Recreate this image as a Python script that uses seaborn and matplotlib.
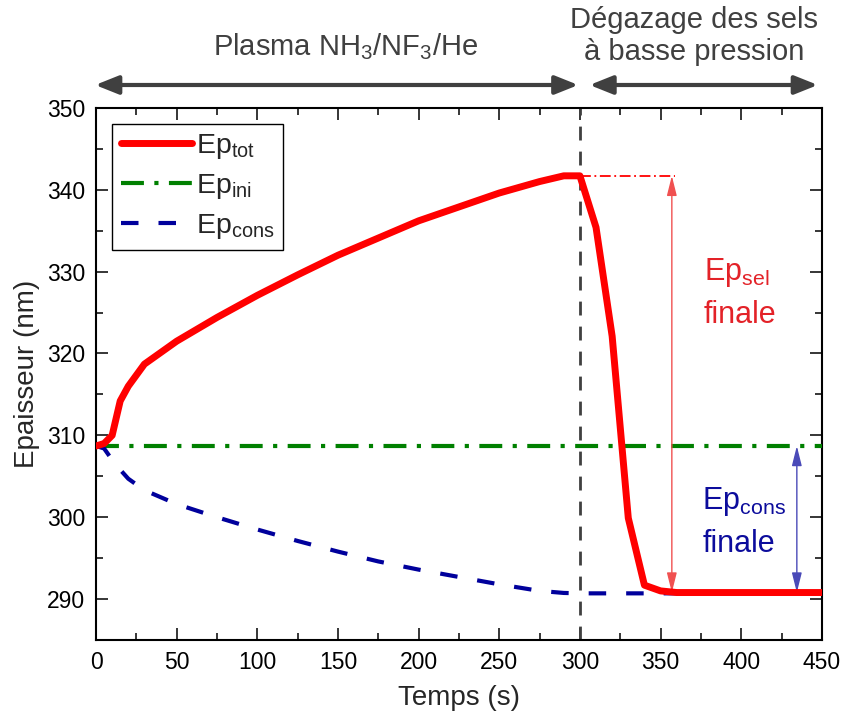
import matplotlib
matplotlib.use("Agg")
import matplotlib.pyplot as plt
import seaborn as sns
import pandas as pd

# values
t_tot = [0, 5, 10, 15, 20, 30, 50, 75, 100, 125, 150, 175, 200, 225, 250, 275, 290, 300,
         310, 320, 330, 340, 350, 360, 450]
ep_tot = [308.7, 309.0, 310.0, 314.2, 316.0, 318.7, 321.5, 324.4, 327.1, 329.6, 332.0, 334.1,
          336.2, 337.9, 339.6, 341.0, 341.7, 341.7, 335.4, 322.1, 299.9, 291.7, 291.0, 290.8, 290.8]
t_cons = [0, 5, 10, 15, 20, 30, 50, 75, 100, 125, 150, 175, 200, 225, 250, 275, 290, 300, 450]
ep_cons = [308.7, 308.4, 307.0, 305.8, 304.7, 303.3, 301.6, 300.0, 298.5, 297.1, 295.8, 294.6,
           293.6, 292.7, 291.8, 291.0, 290.75, 290.7, 290.7]
t_ini = [0, 450]
ep_ini = [308.7, 308.7]

t_switch = 300
x_ticks = [0, 50, 100, 150, 200, 250, 300, 350, 400, 450]
y_ticks = [290, 300, 310, 320, 330, 340, 350]

sns.set_theme(style="ticks")
plt.rcParams["font.family"] = ["Liberation Sans", "DejaVu Sans"]
plt.rcParams["mathtext.default"] = "regular"

df_tot = pd.DataFrame({"t": t_tot, "ep": ep_tot})
df_cons = pd.DataFrame({"t": t_cons, "ep": ep_cons})
df_ini = pd.DataFrame({"t": t_ini, "ep": ep_ini})

fig = plt.figure(figsize=(8.43, 7.24), dpi=100)
ax = fig.add_axes([0.1139, 0.116, 0.861, 0.735])

sns.lineplot(data=df_tot, x="t", y="ep", ax=ax, color="#ff0000", linewidth=5,
             label="Ep$_{tot}$", zorder=4)
sns.lineplot(data=df_ini, x="t", y="ep", ax=ax, color="#008000", linewidth=3,
             linestyle=(0, (5.5, 2.5, 1, 2.5)), label="Ep$_{ini}$", zorder=3)
sns.lineplot(data=df_cons, x="t", y="ep", ax=ax, color="#00009c", linewidth=3,
             linestyle=(0, (4.2, 4.8)), label="Ep$_{cons}$", zorder=3)

ax.axvline(t_switch, color="#404040", linewidth=2.0, linestyle=(0, (5, 4)), zorder=2)

# Ep_sel finale
peak = max(ep_tot)
final = ep_tot[-1]
ax.plot([t_switch, 359], [peak, peak], color="#ff0000", linewidth=1.3,
        linestyle=(0, (6, 2, 1, 2)), zorder=3)
ax.annotate("", xy=(357, final), xytext=(357, peak),
            arrowprops=dict(arrowstyle="<|-|>,head_length=1.0,head_width=0.25",
                            color="#f05050", lw=1.0, mutation_scale=12,
                            shrinkA=0, shrinkB=0))
ax.text(377, 327.4, "Ep$_{sel}$\nfinale", color="#e32228", fontsize=22,
        ha="left", va="center", linespacing=1.45)

# Ep_cons finale
ax.annotate("", xy=(434.5, final), xytext=(434.5, ep_ini[0]),
            arrowprops=dict(arrowstyle="<|-|>,head_length=1.0,head_width=0.25",
                            color="#4a4ab8", lw=1.0, mutation_scale=12,
                            shrinkA=0, shrinkB=0))
ax.text(376, 299.4, "Ep$_{cons}$\nfinale", color="#0c0c9c", fontsize=22,
        ha="left", va="center", linespacing=1.45)

# phases above the axes
trans = ("data", "axes fraction")
head = "<|-|>,head_length=1.0,head_width=0.4"
ax.annotate("", xy=(-0.5, 1.043), xytext=(299, 1.043), xycoords=trans, textcoords=trans,
            arrowprops=dict(arrowstyle=head, color="#404040", lw=3, mutation_scale=14,
                            shrinkA=0, shrinkB=0), annotation_clip=False)
ax.annotate("", xy=(306, 1.043), xytext=(447.5, 1.043), xycoords=trans, textcoords=trans,
            arrowprops=dict(arrowstyle=head, color="#404040", lw=3, mutation_scale=14,
                            shrinkA=0, shrinkB=0), annotation_clip=False)
ax.text(155, 1.0996, "Plasma NH$_3$/NF$_3$/He", transform=ax.get_xaxis_transform(),
        color="#404040", fontsize=21, ha="center", va="baseline")
ax.text(370.6, 1.135, "Dégazage des sels\nà basse pression", transform=ax.get_xaxis_transform(),
        color="#404040", fontsize=21, ha="center", va="center", linespacing=1.15)

ax.set_xlim(0, 450)
ax.set_ylim(285, 350)
ax.set_xticks(x_ticks)
ax.set_yticks(y_ticks)
ax.set_xticks([x + 25 for x in x_ticks[:-1]], minor=True)
ax.set_yticks([y - 5 for y in y_ticks], minor=True)
ax.tick_params(which="both", direction="in", top=True, right=True, width=1.1,
               labelsize=16.5, colors="black")
ax.tick_params(which="major", length=8.6, pad=8)
ax.tick_params(which="minor", length=5)
for s in ax.spines.values():
    s.set_linewidth(1.5)
    s.set_color("black")

ax.set_xlabel("Temps (s)", fontsize=20, labelpad=8)
ax.set_ylabel("Epaisseur (nm)", fontsize=20, labelpad=5)

leg = ax.legend(loc="upper left", bbox_to_anchor=(0.022, 0.970), borderaxespad=0,
                fontsize=20.5, frameon=True, fancybox=False, edgecolor="black",
                framealpha=1, handlelength=2.5, labelspacing=0.38, handletextpad=0.15,
                borderpad=0.3)
leg.get_frame().set_linewidth(1.0)

fig.savefig("out.png", dpi=100)
